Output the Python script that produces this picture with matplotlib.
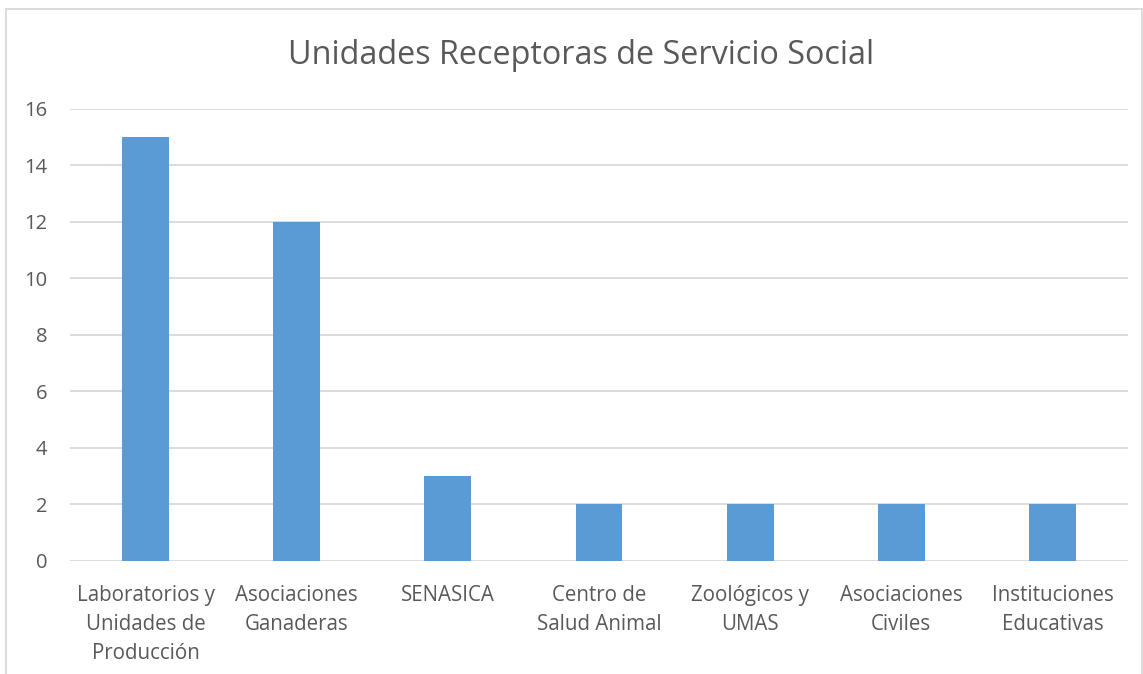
import matplotlib
matplotlib.use("Agg")
import matplotlib.pyplot as plt
from matplotlib.patches import Rectangle

categorias = ["Laboratorios y\nUnidades de\nProducción", "Asociaciones\nGanaderas", "SENASICA",
              "Centro de\nSalud Animal", "Zoológicos y\nUMAS", "Asociaciones\nCiviles",
              "Instituciones\nEducativas"]
valores = [15, 12, 3, 2, 2, 2, 2]
ticks_y = [0, 2, 4, 6, 8, 10, 12, 14, 16]

gris = "#595959"
plt.rcParams['font.family'] = ['Open Sans', 'DejaVu Sans']

fig = plt.figure(figsize=(11.43, 6.74), dpi=100)
ax = fig.add_axes([0.0612, 0.1677, 0.9257, 0.6713])

x = range(len(categorias))
ax.bar(x, valores, width=0.31, color="#5B9BD5", zorder=3)
ax.set_xlim(-0.5, len(categorias) - 0.5)
ax.set_ylim(0, 16)
ax.set_yticks(ticks_y)
ax.set_xticks(list(x))
ax.set_xticklabels(categorias, fontsize=14.8, color=gris, linespacing=1.5)
ax.tick_params(axis="y", labelsize=14.5, labelcolor=gris, length=0, pad=16.5)
ax.tick_params(axis="x", length=0, pad=17)
ax.grid(axis="y", color="#D9D9D9", linewidth=1.3, zorder=0)
for s in ax.spines.values():
    s.set_visible(False)

fig.text(0.508, 0.918, "Unidades Receptoras de Servicio Social", ha="center", va="center",
         fontsize=23.3, color=gris)

# marco del gráfico
fig.patches.append(Rectangle((6 / 1143, -0.01), 1136 / 1143, 1 - 9 / 674 + 0.01,
                             transform=fig.transFigure, fill=False,
                             edgecolor="#D9D9D9", linewidth=1.3))

fig.savefig("out.png", dpi=100)
